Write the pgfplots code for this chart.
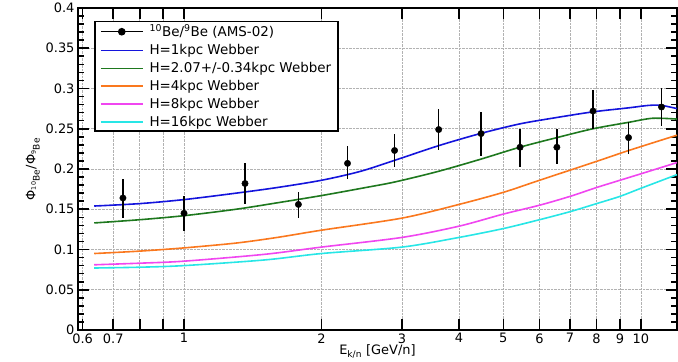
\documentclass[border=0pt]{standalone}
\usepackage{fontspec}
\setmainfont{DejaVu Sans}
\usepackage{pgfplots}
\pgfplotsset{compat=1.18}
\definecolor{cblue}{RGB}{20,20,220}
\definecolor{cgreen}{RGB}{30,120,30}
\definecolor{corange}{RGB}{250,120,30}
\definecolor{cmag}{RGB}{240,70,240}
\definecolor{ccyan}{RGB}{40,230,230}
\begin{document}
\fontsize{13}{15}\selectfont
\begin{tikzpicture}
\begin{axis}[
 scale only axis, width=599bp, height=322bp,
 xmode=log, xmin=0.586, xmax=12, ymin=0, ymax=0.4,
 xtick={0.6,0.7,0.8,0.9,1,2,3,4,5,6,7,8,9,10},
 xticklabels={0.6,0.7,,,1,2,3,4,5,6,7,8,9,10},
 ytick={0,0.05,0.1,0.15,0.2,0.25,0.3,0.35,0.4},
 yticklabels={0,0.05,0.1,0.15,0.2,0.25,0.3,0.35,0.4},
 minor y tick num=4,
 grid=major, major grid style={densely dotted, gray!60, line width=0.6bp},
 tick align=inside,
 axis line style={line width=1.6bp},
 every tick/.style={black, line width=1.6bp},
 major tick length=11bp, minor tick length=6bp,
 tick label style={font=\fontsize{13}{15}\selectfont},
 xticklabel style={yshift=1bp},
 yticklabel style={xshift=1bp},
 /pgf/number format/assume math mode=true,
 xlabel={E\textsubscript{k/n} [GeV/n]},
 xlabel style={yshift=7bp, font=\fontsize{13}{15}\selectfont},
 ylabel={Φ\textsubscript{\textsuperscript{10}Be}/Φ\textsubscript{\textsuperscript{9}Be}},
 ylabel style={yshift=-3bp, font=\fontsize{13}{15}\selectfont},
 legend style={at={(0.027,0.96)}, anchor=north west, draw=black, line width=1.6bp,
   font=\fontsize{13.5}{15}\selectfont, row sep=1.7bp, column sep=4bp, inner xsep=5bp, inner ysep=1bp},
 legend cell align=left,
 legend image code/.code={\draw[mark repeat=2,mark phase=2,#1] plot coordinates {(0bp,0bp) (21bp,0bp) (42bp,0bp)};},
]
\addlegendimage{black, line width=1.2bp, mark=*, mark size=3.2bp}
\addlegendentry{\textsuperscript{10}Be/\textsuperscript{9}Be (AMS-02)}

\addplot[cblue, line width=1.6bp, smooth] table {
0.636 0.154
0.8 0.157
1.0 0.162
1.3 0.170
1.6 0.177
2.0 0.186
2.43 0.197
2.90 0.211
3.61 0.229
4.45 0.244
5.43 0.256
6.55 0.264
7.86 0.271
9.41 0.276
10.4 0.279
11.1 0.279
12.0 0.275
};
\addlegendentry{H=1kpc Webber}

\addplot[cgreen, line width=1.6bp, smooth] table {
0.636 0.133
0.8 0.137
1.0 0.142
1.3 0.150
1.6 0.158
2.0 0.167
2.5 0.177
2.9 0.184
3.6 0.197
4.45 0.212
5.43 0.227
6.55 0.239
7.86 0.250
9.41 0.258
10.6 0.263
12.0 0.262
};
\addlegendentry{H=2.07+/-0.34kpc Webber}

\addplot[corange, line width=1.6bp, smooth] table {
0.636 0.095
0.8 0.098
1.0 0.102
1.3 0.108
1.6 0.115
2.0 0.124
3.0 0.139
4.0 0.156
5.0 0.171
6.0 0.186
7.86 0.208
9.41 0.223
12.0 0.242
};
\addlegendentry{H=4kpc Webber}

\addplot[cmag, line width=1.6bp, smooth] table {
0.636 0.081
0.8 0.083
1.0 0.0855
1.5 0.094
2.0 0.103
3.0 0.115
4.0 0.129
5.0 0.144
6.0 0.155
7.0 0.166
8.0 0.177
9.0 0.186
10.0 0.194
12.0 0.208
};
\addlegendentry{H=8kpc Webber}

\addplot[ccyan, line width=1.6bp, smooth] table {
0.636 0.077
0.8 0.078
1.0 0.080
1.5 0.087
2.0 0.095
3.0 0.103
4.0 0.115
5.0 0.126
6.0 0.137
7.0 0.147
8.0 0.157
9.0 0.166
10.0 0.176
12.0 0.193
};
\addlegendentry{H=16kpc Webber}

\addplot[black, only marks, mark=*, mark size=3.2bp, forget plot,
  error bars/.cd, y dir=both, y explicit, error mark=none,
  error bar style={line width=1.4bp, black}]
 table[x index=0, y index=1, y error plus index=2, y error minus index=3] {
0.735 0.164 0.024 0.025
1.0 0.145 0.021 0.022
1.36 0.182 0.025 0.025
1.78 0.156 0.016 0.017
2.28 0.207 0.021 0.019
2.89 0.223 0.020 0.020
3.61 0.249 0.026 0.026
4.47 0.244 0.027 0.028
5.44 0.227 0.023 0.024
6.55 0.227 0.023 0.021
7.86 0.272 0.026 0.022
9.4 0.239 0.019 0.020
11.1 0.277 0.024 0.023
};
\end{axis}
\pgfresetboundingbox
\path ([xshift=-78bp,yshift=-32bp]current axis.south west) rectangle ([xshift=1bp,yshift=8bp]current axis.north east);
\end{tikzpicture}
\end{document}
